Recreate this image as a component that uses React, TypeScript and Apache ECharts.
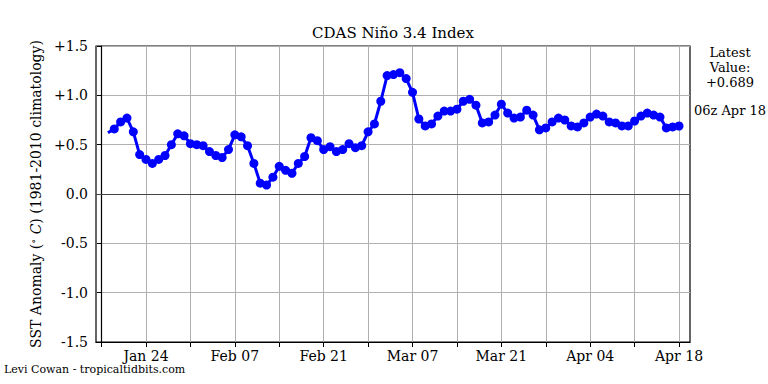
import React, { useEffect, useRef } from "react";
import * as echarts from "echarts";

// Day 0 = Jan 17 2018 (00z); data is daily from Jan 18 to Apr 18
const START_UTC = Date.UTC(2018, 0, 17);
const MONTHS = ["Jan", "Feb", "Mar", "Apr", "May", "Jun", "Jul", "Aug", "Sep", "Oct", "Nov", "Dec"];
const FIRST_DAY = 1;

const anomaly = [
  0.62, 0.66, 0.73, 0.77, 0.63, 0.40, 0.35, 0.31, 0.35, 0.39,
  0.50, 0.61, 0.59, 0.51, 0.50, 0.49, 0.43, 0.39, 0.37, 0.45,
  0.60, 0.58, 0.49, 0.31, 0.11, 0.09, 0.17, 0.28, 0.24, 0.21,
  0.31, 0.38, 0.57, 0.54, 0.45, 0.48, 0.43, 0.45, 0.51, 0.47,
  0.49, 0.63, 0.71, 0.94, 1.20, 1.21, 1.23, 1.17, 1.03, 0.76,
  0.69, 0.71, 0.79, 0.84, 0.84, 0.86, 0.94, 0.96, 0.90, 0.72,
  0.73, 0.80, 0.91, 0.82, 0.77, 0.78, 0.85, 0.80, 0.65, 0.67,
  0.73, 0.77, 0.75, 0.69, 0.68, 0.72, 0.78, 0.81, 0.79, 0.73,
  0.72, 0.69, 0.69, 0.74, 0.79, 0.82, 0.80, 0.78, 0.67, 0.68,
  0.689,
];

const tickDays = [0, 7, 14, 21, 28, 35, 42, 49, 56, 63, 70, 77, 84, 91];
const labelDays = [7, 21, 35, 49, 63, 77, 91];

const latestText = "Latest\nValue:\n+0.689";
const latestTime = "06z Apr 18";
const titleText = "CDAS Niño 3.4 Index";
const creditText = "Levi Cowan - tropicaltidbits.com";

const FONT = "DejaVu Serif";

function dayLabel(v: number): string {
  const d = new Date(START_UTC + Math.round(v) * 86400000);
  return MONTHS[d.getUTCMonth()] + " " + String(d.getUTCDate()).padStart(2, "0");
}

function yLabel(v: number): string {
  const r = Math.round(v * 10) / 10;
  if (r === 0) return "0.0";
  return (r > 0 ? "+" : "") + r.toFixed(1);
}

export default function App() {
  const ref = useRef<HTMLDivElement>(null);

  useEffect(() => {
    if (!ref.current) return;
    const chart = echarts.init(ref.current, null, { renderer: "svg" });

    const seriesData = anomaly.map((v, i) => {
      const item: any = { value: [FIRST_DAY + i, v] };
      if (i === 0) item.symbol = "none";
      return item;
    });

    chart.setOption({
      animation: false,
      backgroundColor: "#ffffff",
      grid: {
        left: 96,
        right: 78,
        top: 46,
        bottom: 42,
        show: true,
        borderColor: "#000000",
        borderWidth: 1.2,
        backgroundColor: "transparent",
      },
      xAxis: {
        type: "value",
        min: -0.88,
        max: 92.73,
        axisLine: { show: true, onZero: false, lineStyle: { color: "#000", width: 1.2 } },
        axisTick: {
          show: true,
          length: 5,
          inside: false,
          customValues: tickDays,
          lineStyle: { color: "#000", width: 1 },
        },
        axisLabel: {
          show: true,
          customValues: labelDays,
          formatter: (v: number) => dayLabel(v),
          fontFamily: FONT,
          fontSize: 14,
          color: "#000",
          margin: 7,
        },
        splitLine: { show: true, lineStyle: { color: "#b0b0b0", width: 1 } },
      },
      yAxis: {
        type: "value",
        min: -1.5,
        max: 1.5,
        interval: 0.5,
        axisLine: { show: true, lineStyle: { color: "#000", width: 1.2 } },
        axisTick: { show: true, length: 5, lineStyle: { color: "#000", width: 1 } },
        axisLabel: {
          formatter: (v: number) => yLabel(v),
          fontFamily: FONT,
          fontSize: 14,
          color: "#000",
          margin: 8,
        },
        splitLine: { show: true, lineStyle: { color: "#b0b0b0", width: 1 } },
        name: "SST Anomaly ({deg|∘} {it|C}) (1981-2010 climatology)",
        nameLocation: "middle",
        nameGap: 52,
        nameRotate: 90,
        nameTextStyle: {
          fontFamily: FONT,
          fontSize: 14,
          color: "#000",
          rich: {
            deg: { fontFamily: FONT, fontSize: 10, color: "#000", verticalAlign: "top", padding: [0, 0, 6, 0] },
            it: { fontFamily: FONT, fontSize: 14, fontStyle: "italic", color: "#000" },
          },
        },
      },
      series: [
        {
          type: "line",
          data: seriesData,
          symbol: "circle",
          symbolSize: 9,
          showSymbol: true,
          lineStyle: { color: "#0000ff", width: 3 },
          itemStyle: { color: "#0000ff", borderWidth: 0 },
          z: 5,
          markLine: {
            silent: true,
            symbol: "none",
            label: { show: false },
            lineStyle: { color: "#444444", width: 1.2, type: "solid" },
            data: [{ yAxis: 0 }],
            z: 3,
          },
        },
      ],
      graphic: [
        {
          type: "text",
          x: 393,
          y: 25,
          style: {
            text: titleText,
            fontFamily: FONT,
            fontSize: 15,
            fill: "#000",
            textAlign: "center",
          },
        },
        {
          type: "text",
          x: 730,
          y: 45,
          style: {
            text: latestText,
            fontFamily: FONT,
            fontSize: 13,
            lineHeight: 15,
            fill: "#000",
            textAlign: "center",
          },
        },
        {
          type: "text",
          x: 730,
          y: 104,
          style: {
            text: latestTime,
            fontFamily: FONT,
            fontSize: 13,
            fill: "#000",
            textAlign: "center",
          },
        },
        {
          type: "text",
          x: 4,
          y: 364,
          style: {
            text: creditText,
            fontFamily: FONT,
            fontSize: 11,
            fill: "#000",
          },
        },
      ],
    });

    return () => chart.dispose();
  }, []);

  return (
    <div
      ref={ref}
      style={{ position: "fixed", left: 0, top: 0, width: 768, height: 384, background: "#fff" }}
    />
  );
}
